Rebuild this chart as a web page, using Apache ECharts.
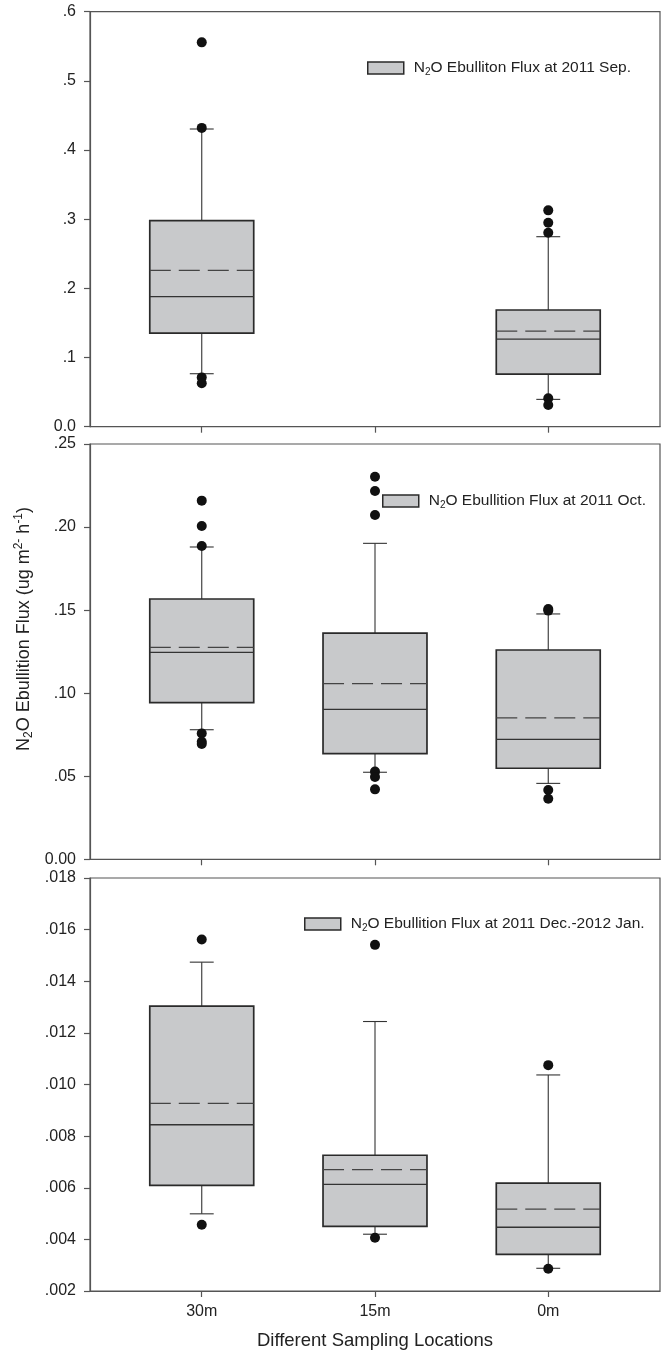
<!DOCTYPE html>
<html>
<head>
<meta charset="utf-8">
<script src="https://cdn.jsdelivr.net/npm/echarts@6/dist/echarts.min.js"></script>
<style>
html,body{margin:0;padding:0;background:#fff;}
#chart{width:665px;height:1356px;}
</style>
</head>
<body>
<div id="chart"></div>
<script>
// ---------- data ----------
const categories = ['30m', '15m', '0m'];

// box stats per category: [lower whisker, Q1, median, Q3, upper whisker]
const sepBoxes = [[0.0766, 0.1354, 0.188, 0.2978, 0.4304], null, [0.0395, 0.0761, 0.1267, 0.1687, 0.2747]];
const sepMeans = [0.226, null, 0.1383];
const sepOutliers = [[0.5557, 0.432, 0.0713, 0.0627], [], [0.3128, 0.2949, 0.2805, 0.041, 0.0313]];

const octBoxes = [[0.078, 0.0943, 0.1246, 0.1567, 0.188], [0.0524, 0.0636, 0.0903, 0.1362, 0.1902], [0.0457, 0.0548, 0.0722, 0.126, 0.1477]];
const octMeans = [0.1276, 0.1057, 0.0851];
const octOutliers = [[0.2159, 0.2006, 0.1886, 0.0758, 0.0708, 0.0694], [0.2303, 0.2217, 0.2073, 0.0528, 0.0496, 0.0421], [0.1507, 0.1497, 0.0417, 0.0365]];

const decBoxes = [[0.00499, 0.00609, 0.00844, 0.01304, 0.01474], [0.0042, 0.0045, 0.00613, 0.00726, 0.01244], [0.00288, 0.00342, 0.00447, 0.00618, 0.01037]];
const decMeans = [0.00927, 0.0067, 0.00517];
const decOutliers = [[0.01562, 0.00457], [0.01541, 0.00406], [0.01075, 0.00286]];

const sepTicks = { min: 0, max: 0.6, interval: 0.1 };
const octTicks = { min: 0, max: 0.25, interval: 0.05 };
const decTicks = { min: 0.002, max: 0.018, interval: 0.002 };

// ---------- styles ----------
const FONT = "'Liberation Sans', Arial, sans-serif";
const TXT = '#222';
const AXIS = '#555';
const BOX_FILL = '#c8c9cb';
const BOX_STROKE = '#2a2a2a';
const BOX_UNITS = 0.6;   // box width in category units
const CAP_UNITS = 0.138; // whisker cap width in category units

const grids = [
  { left: 90, right: 5, top: 11.7, height: 415 },
  { left: 90, right: 5, top: 444, height: 415.3 },
  { left: 90, right: 5, top: 878, height: 413 }
];

function boxData(boxes, means) {
  const out = [];
  boxes.forEach((b, i) => { if (b) out.push([i, b[0], b[1], b[2], b[3], b[4], means[i]]); });
  return out;
}
function outlierData(outs) {
  const out = [];
  outs.forEach((arr, i) => arr.forEach(v => out.push([i, v])));
  return out;
}

function renderBox(params, api) {
  const x = api.value(0);
  const lo = api.coord([x, api.value(1)]);
  const q1 = api.coord([x, api.value(2)]);
  const md = api.coord([x, api.value(3)]);
  const q3 = api.coord([x, api.value(4)]);
  const hi = api.coord([x, api.value(5)]);
  const mn = api.coord([x, api.value(6)]);
  const hw = api.size([BOX_UNITS, 0])[0] / 2;
  const cw = api.size([CAP_UNITS, 0])[0] / 2;
  const cx = lo[0];
  const wStyle = { stroke: '#333', lineWidth: 1.1 };
  const line = (x1, y1, x2, y2, style) => ({ type: 'line', shape: { x1, y1, x2, y2 }, style });
  return {
    type: 'group',
    children: [
      line(cx, hi[1], cx, q3[1], wStyle),
      line(cx, q1[1], cx, lo[1], wStyle),
      line(cx - cw, hi[1], cx + cw, hi[1], wStyle),
      line(cx - cw, lo[1], cx + cw, lo[1], wStyle),
      { type: 'rect', shape: { x: cx - hw, y: q3[1], width: 2 * hw, height: q1[1] - q3[1] },
        style: { fill: BOX_FILL, stroke: BOX_STROKE, lineWidth: 1.7 } },
      line(cx - hw, md[1], cx + hw, md[1], { stroke: '#333', lineWidth: 1.3 }),
      line(cx - hw, mn[1], cx + hw, mn[1], { stroke: '#444', lineWidth: 1.3, lineDash: [21, 8] })
    ]
  };
}

function xAxisOf(idx, showLabels) {
  return {
    type: 'value', gridIndex: idx, min: -0.645, max: 2.645,
    axisLine: { show: true, onZero: false, lineStyle: { color: AXIS, width: 1.2 } },
    axisTick: { show: true, length: 6, customValues: [0, 1, 2], lineStyle: { color: AXIS, width: 1.2 } },
    axisLabel: { show: showLabels, customValues: [0, 1, 2], formatter: v => categories[Math.round(v)],
      fontSize: 16, color: TXT, fontFamily: FONT, margin: 13 },
    splitLine: { show: false },
    name: showLabels ? 'Different Sampling Locations' : '',
    nameLocation: 'middle', nameGap: 40,
    nameTextStyle: { fontSize: 18.5, color: TXT, fontFamily: FONT }
  };
}
function yAxisOf(idx, t, fmt) {
  return {
    type: 'value', gridIndex: idx, min: t.min, max: t.max, interval: t.interval,
    axisLine: { show: true, onZero: false, lineStyle: { color: AXIS, width: 1.2 } },
    axisTick: { show: true, length: 6, lineStyle: { color: AXIS, width: 1.2 } },
    axisLabel: { fontSize: 16, color: TXT, fontFamily: FONT, margin: 14, formatter: fmt },
    splitLine: { show: false }
  };
}

const richBase = {
  a: { fontSize: 15.5, color: TXT, fontFamily: FONT },
  f: { fontSize: 15.5, color: TXT, fontFamily: FONT, padding: [0, 0, 0, 5] },
  s: { fontSize: 10, color: TXT, fontFamily: FONT, padding: [8, 0, 0, 0] }
};
function legendOf(name, left, top, text) {
  return {
    left: left, top: top, padding: 0, orient: 'horizontal',
    itemWidth: 36, itemHeight: 12, selectedMode: false,
    data: [{ name: name, icon: 'rect', itemStyle: { color: BOX_FILL, borderColor: BOX_STROKE, borderWidth: 1.5 } }],
    formatter: () => text,
    textStyle: { fontSize: 15.5, color: TXT, fontFamily: FONT, rich: richBase }
  };
}

const panels = [
  { name: 'sep', boxes: sepBoxes, means: sepMeans, outs: sepOutliers },
  { name: 'oct', boxes: octBoxes, means: octMeans, outs: octOutliers },
  { name: 'dec', boxes: decBoxes, means: decMeans, outs: decOutliers }
];

const series = [];
panels.forEach((p, i) => {
  series.push({
    type: 'custom', name: p.name, xAxisIndex: i, yAxisIndex: i,
    renderItem: renderBox, data: boxData(p.boxes, p.means),
    encode: { x: 0, y: [1, 2, 3, 4, 5, 6] }, z: 2, silent: true
  });
  series.push({
    type: 'scatter', name: p.name + '-out', xAxisIndex: i, yAxisIndex: i,
    data: outlierData(p.outs), symbol: 'circle', symbolSize: 10,
    itemStyle: { color: '#111', opacity: 1 }, z: 5, silent: true
  });
});

const option = {
  animation: false,
  backgroundColor: '#fff',
  grid: grids.map(g => Object.assign({ show: true, borderColor: AXIS, borderWidth: 1.2, backgroundColor: 'transparent' }, g)),
  xAxis: [xAxisOf(0, false), xAxisOf(1, false), xAxisOf(2, true)],
  yAxis: [
    yAxisOf(0, sepTicks, v => v === 0 ? '0.0' : v.toFixed(1).replace(/^0/, '')),
    yAxisOf(1, octTicks, v => v === 0 ? '0.00' : v.toFixed(2).replace(/^0/, '')),
    yAxisOf(2, decTicks, v => v.toFixed(3).replace(/^0/, ''))
  ],
  legend: [
    legendOf('sep', 367, 60, '{f|N}{s|2}{a|O Ebulliton Flux at 2011 Sep.}'),
    legendOf('oct', 382, 493, '{f|N}{s|2}{a|O Ebullition Flux at 2011 Oct.}'),
    legendOf('dec', 304, 916, '{f|N}{s|2}{a|O Ebullition Flux at 2011 Dec.-2012 Jan.}')
  ],
  graphic: [{
    type: 'text', x: 24, y: 629, rotation: Math.PI / 2,
    style: {
      text: '{a|N}{s|2}{a|O Ebullition Flux (ug m}{p|2-}{a| h}{p|-1}{a|)}',
      align: 'center', verticalAlign: 'middle',
      rich: {
        a: { fontSize: 18, fill: TXT, fontFamily: FONT },
        s: { fontSize: 12, fill: TXT, fontFamily: FONT, padding: [9, 0, 0, 0] },
        p: { fontSize: 12, fill: TXT, fontFamily: FONT, padding: [0, 0, 10, 0] }
      }
    }
  }],
  series: series
};

const chart = echarts.init(document.getElementById('chart'), null, { renderer: 'canvas' });
chart.setOption(option);
</script>
</body>
</html>
